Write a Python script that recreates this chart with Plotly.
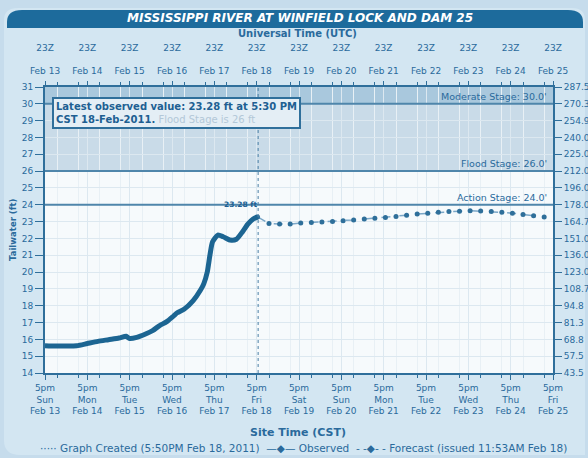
import plotly.graph_objects as go

# ---------------- data ----------------
obs_time = ["2011-02-13 17:00", "2011-02-13 23:00", "2011-02-14 05:00", "2011-02-14 11:00",
            "2011-02-14 17:00", "2011-02-14 23:00", "2011-02-15 05:00", "2011-02-15 11:00",
            "2011-02-15 15:00", "2011-02-15 17:00", "2011-02-15 21:00", "2011-02-16 02:00",
            "2011-02-16 06:00", "2011-02-16 10:00", "2011-02-16 14:00", "2011-02-16 18:00",
            "2011-02-16 20:00", "2011-02-17 00:00", "2011-02-17 05:00", "2011-02-17 09:00",
            "2011-02-17 11:00", "2011-02-17 13:00", "2011-02-17 14:30", "2011-02-17 16:00",
            "2011-02-17 19:00", "2011-02-17 22:00", "2011-02-18 02:00", "2011-02-18 05:30",
            "2011-02-18 09:00", "2011-02-18 12:00", "2011-02-18 15:00", "2011-02-18 17:30"]
obs_stage = [15.62, 15.60, 15.60, 15.62, 15.75, 15.88, 15.98, 16.08,
             16.18, 16.05, 16.12, 16.32, 16.52, 16.82, 17.05, 17.40,
             17.58, 17.80, 18.30, 18.90, 19.30, 20.00, 21.00, 21.80,
             22.20, 22.10, 21.90, 21.95, 22.40, 22.85, 23.15, 23.28]

fc_time = ["2011-02-18 17:30",
           "2011-02-19 00:00", "2011-02-19 06:00", "2011-02-19 12:00", "2011-02-19 18:00",
           "2011-02-20 00:00", "2011-02-20 06:00", "2011-02-20 12:00", "2011-02-20 18:00",
           "2011-02-21 00:00", "2011-02-21 06:00", "2011-02-21 12:00", "2011-02-21 18:00",
           "2011-02-22 00:00", "2011-02-22 06:00", "2011-02-22 12:00", "2011-02-22 18:00",
           "2011-02-23 00:00", "2011-02-23 06:00", "2011-02-23 12:00", "2011-02-23 18:00",
           "2011-02-24 00:00", "2011-02-24 06:00", "2011-02-24 12:00", "2011-02-24 18:00",
           "2011-02-25 00:00", "2011-02-25 06:00", "2011-02-25 12:00"]
fc_stage = [23.28,
            22.88, 22.85, 22.85, 22.92,
            22.95, 22.98, 23.00, 23.05,
            23.10, 23.15, 23.20, 23.25,
            23.30, 23.38, 23.45, 23.50,
            23.55, 23.60, 23.62, 23.65,
            23.63, 23.60, 23.55, 23.50,
            23.42, 23.35, 23.28]

tick_dates = ["2011-02-%02d 17:00" % d for d in range(13, 26)]
day_names = ["Sun", "Mon", "Tue", "Wed", "Thu", "Fri", "Sat",
             "Sun", "Mon", "Tue", "Wed", "Thu", "Fri"]
date_labels = ["Feb %d" % d for d in range(13, 26)]
stage_ticks = list(range(14, 32))
flow_labels = ["43.5", "57.5", "68.8", "81.3", "94.8", "108.7", "123.0", "136.0", "151.0",
               "164.7", "178.0", "196.0", "212.0", "225.0", "240.0", "254.9", "270.3", "287.5"]
action_stage, flood_stage, moderate_stage = 24.0, 26.0, 30.0
latest_value = 23.28
graph_created = "2011-02-18 17:50"

# ---------------- layout helpers ----------------
W, H = 588, 458
L, R, T, B = 45, 35, 87, 85
PW, PH = W - L - R, H - T - B
def px(x): return (x - L) / PW
def py(y): return (H - B - y) / PH

DARK = "#1d6b9c"
TXT = "#2a6a9c"
FONT = "DejaVu Sans, Verdana, sans-serif"

fig = go.Figure()

fig.add_trace(go.Scatter(x=fc_time, y=fc_stage, mode="lines+markers",
                         line=dict(color="#7aa7c8", width=1.5, dash="dash"),
                         marker=dict(color="#2e6f9a", size=5),
                         hoverinfo="skip", showlegend=False))
fig.add_trace(go.Scatter(x=obs_time, y=obs_stage, mode="lines",
                         line=dict(color="#1c6592", width=5, shape="spline", smoothing=0.6),
                         hoverinfo="skip", showlegend=False))
# invisible trace to anchor top / right axes
fig.add_trace(go.Scatter(x=[obs_time[0]], y=[obs_stage[0]], xaxis="x2", yaxis="y2",
                         mode="markers", marker=dict(opacity=0), hoverinfo="skip",
                         showlegend=False))

shapes = []
# background panel, plot area & title bar
shapes.append(dict(type="path", xref="paper", yref="paper", layer="below",
                   path=f"M {px(4)},{py(440)} Q {px(4)},{py(455)} {px(20)},{py(455)} "
                        f"L {px(585)},{py(455)} L {px(585)},{py(20)} Q {px(585)},{py(8)} {px(572)},{py(8)} "
                        f"L {px(18)},{py(8)} Q {px(4)},{py(8)} {px(4)},{py(20)} Z",
                   fillcolor="#d3e6f2", line=dict(width=0)))
shapes.append(dict(type="rect", xref="paper", yref="paper", layer="below",
                   x0=0, x1=1, y0=0, y1=1, fillcolor="#f6fafc", line=dict(width=0)))
shapes.append(dict(type="path", xref="paper", yref="paper",
                   path=f"M {px(7)},{py(28)} L {px(7)},{py(22)} Q {px(7)},{py(10)} {px(22)},{py(10)} "
                        f"L {px(568)},{py(10)} Q {px(583)},{py(10)} {px(583)},{py(22)} L {px(583)},{py(28)} Z",
                   fillcolor=DARK, line=dict(width=0)))
# flood zones
shapes.append(dict(type="rect", xref="paper", yref="y", x0=0, x1=1, y0=flood_stage, y1=moderate_stage,
                   fillcolor="#c9dbe8", line=dict(width=0), layer="below"))
shapes.append(dict(type="rect", xref="paper", yref="y", x0=0, x1=1, y0=moderate_stage, y1=31,
                   fillcolor="#a9c8dd", line=dict(width=0), layer="below"))
for s in (action_stage, flood_stage, moderate_stage):
    shapes.append(dict(type="line", xref="paper", yref="y", x0=0, x1=1, y0=s, y1=s,
                       line=dict(color="#4f86ab", width=2)))
# now line
shapes.append(dict(type="line", xref="x", yref="paper", x0=graph_created, x1=graph_created,
                   y0=0, y1=1, line=dict(color="#4a7fa5", width=1, dash="dot")))

def note(x, y, text, size, color=TXT, **kw):
    d = dict(x=px(x), y=py(y), xref="paper", yref="paper", showarrow=False,
             xanchor="center", yanchor="middle", text=text,
             font=dict(family=FONT, size=size, color=color))
    d.update(kw)
    return d

ann = []
ann.append(note(300, 18, "<b><i>MISSISSIPPI RIVER AT WINFIELD LOCK AND DAM 25</i></b>", 12, "white"))
ann.append(note(297, 34, "<b>Universal Time (UTC)</b>", 10))
ann.append(note(298, 432, "<b>Site Time (CST)</b>", 11))
ann.append(note(303, 448,
                "\u00b7\u00b7\u00b7\u00b7\u00b7 Graph Created (5:50PM Feb 18, 2011)  "
                "\u2014\u25c6\u2014 Observed  - -\u25c6- - Forecast (issued 11:53AM Feb 18)", 10.5))
ann.append(note(13, 230, "<b>Tailwater (ft)</b>", 8.5, textangle=-90))
ann.append(note(52, 97,
                "<b>Latest observed value: 23.28 ft at 5:30 PM<br>CST 18-Feb-2011.</b> "
                "<span style='color:#b3c8d8'>Flood Stage is 26 ft</span>", 10, "#205f92",
                xanchor="left", yanchor="top", align="left",
                bgcolor="#e4eef5", bordercolor="#2f6f9b", borderwidth=2, borderpad=2))
for s, label in ((moderate_stage, "Moderate Stage: 30.0'"), (flood_stage, "Flood Stage: 26.0'"),
                 (action_stage, "Action Stage: 24.0'")):
    ann.append(dict(x=px(549), y=s, xref="paper", yref="y", showarrow=False,
                    xanchor="right", yanchor="bottom", text=label,
                    font=dict(family=FONT, size=9.5, color=TXT)))
ann.append(dict(x=obs_time[-1], y=latest_value, xref="x", yref="y", showarrow=False,
                xanchor="right", yanchor="bottom", xshift=2, yshift=6,
                text="<b>23.28 ft</b>", font=dict(family=FONT, size=7.5, color="#205f92")))

axis_common = dict(showline=True, linecolor="#2f6f9b", linewidth=2, automargin=False,
                   tickfont=dict(family=FONT, size=9, color=TXT), tickcolor="#2f6f9b")

fig.update_layout(
    width=W, height=H, margin=dict(l=L, r=R, t=T, b=B, autoexpand=False),
    paper_bgcolor="#c6dcec", plot_bgcolor="#f6fafc",
    shapes=shapes, annotations=ann, showlegend=False,
    xaxis=dict(type="date", range=[tick_dates[0], tick_dates[-1]],
               tickvals=tick_dates,
               ticktext=["5pm<br>%s<br>%s" % (d, t) for d, t in zip(day_names, date_labels)],
               ticks="outside", ticklen=5, tickwidth=1, mirror=False,
               showgrid=True, gridcolor="#dce8f0", gridwidth=1,
               minor=dict(dtick=43200000, ticks="outside", ticklen=3, tickcolor="#2f6f9b",
                          showgrid=True, gridcolor="#e8f0f5"),
               **axis_common),
    xaxis2=dict(type="date", overlaying="x", side="top", matches="x", anchor="y",
                range=[tick_dates[0], tick_dates[-1]],
                tickvals=tick_dates,
                ticktext=["23Z<br> <br>%s" % t for t in date_labels],
                ticks="outside", ticklen=4, showgrid=False, ticklabelstandoff=3,
                minor=dict(dtick=43200000, ticks="outside", ticklen=3, tickcolor="#2f6f9b"),
                **axis_common),
    yaxis=dict(range=[14, 31], tickvals=stage_ticks, ticktext=[str(v) for v in stage_ticks],
               ticks="outside", ticklen=8, showgrid=True, gridcolor="#dce8f0", zeroline=False,
               **axis_common),
    yaxis2=dict(range=[14, 31], overlaying="y", side="right", anchor="x",
                tickvals=stage_ticks, ticktext=flow_labels, ticks="outside", ticklen=7,
                showgrid=False, zeroline=False, **axis_common),
)

fig.write_html("out.html", config={"displayModeBar": False},
               post_script="document.body.style.margin='0px';")
